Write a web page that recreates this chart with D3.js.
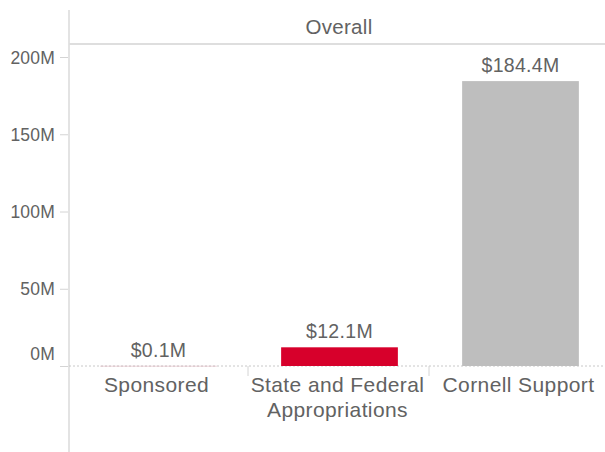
<!DOCTYPE html>
<html>
<head>
<meta charset="utf-8">
<script src="https://cdn.jsdelivr.net/npm/d3@7"></script>
<style>
  html, body { margin: 0; padding: 0; background: #fff; }
  svg { display: block; }
  text { font-family: "Liberation Sans", Arial, sans-serif; fill: #626262; }
</style>
</head>
<body>
<svg id="chart" width="605" height="452"></svg>
<script>
const categories = ["Sponsored", "State and Federal Appropriations", "Cornell Support"];
const categoryLines = [["Sponsored"], ["State and Federal", "Appropriations"], ["Cornell Support"]];
const values = [0.1, 12.1, 184.4]; // $M
const valueLabels = ["$0.1M", "$12.1M", "$184.4M"];
const barColors = ["#d9a6b1", "#d7002b", "#bebebe"];
const yTicks = [0, 50, 100, 150, 200];
const yTickLabels = ["0M", "50M", "100M", "150M", "200M"];
const panelTitle = "Overall";

const svg = d3.select("#chart");
const left = 69, right = 610, zeroY = 366, topY = 57;

const x = d3.scaleBand().domain(categories).range([67, right]).padding(0);
const y = d3.scaleLinear().domain([0, 200]).range([zeroY, topY]);

// Vertical axis line
svg.append("line").attr("x1", left).attr("x2", left).attr("y1", 10).attr("y2", 452)
  .attr("stroke", "#dadada").attr("stroke-width", 1.5);

// Header line + title
svg.append("line").attr("x1", left).attr("x2", 605).attr("y1", 44).attr("y2", 44)
  .attr("stroke", "#dedede").attr("stroke-width", 2);
svg.append("text").attr("x", (left + 605) / 2 + 2).attr("y", 34).attr("text-anchor", "middle")
  .style("font-size", "20.5px").style("letter-spacing", "0.3px").text(panelTitle);

// Y axis
const yAxis = d3.axisLeft(y).tickValues(yTicks).tickSize(8).tickPadding(5)
  .tickFormat((d, i) => yTickLabels[i]);
const gy = svg.append("g").attr("transform", `translate(${left - 1},0)`).call(yAxis);
gy.select(".domain").remove();
gy.selectAll(".tick line").attr("stroke", "#d4d4d4");
gy.selectAll(".tick text").style("font-size", "17.5px").attr("fill", "#626262")
  .style("font-family", "'Liberation Sans', Arial, sans-serif")
  .style("letter-spacing", "0.2px")
  .attr("dy", (d) => d === 0 ? "-0.4em" : "0.35em");

// Zero dotted line
svg.append("line").attr("x1", left).attr("x2", 605).attr("y1", y(0)).attr("y2", y(0))
  .attr("stroke", "#c8c8c8").attr("stroke-width", 1).attr("stroke-dasharray", "2,2");

// Category separators
categories.slice(1).forEach(c => {
  svg.append("line").attr("x1", x(c)).attr("x2", x(c)).attr("y1", y(0)).attr("y2", y(0) + 10)
    .attr("stroke", "#d4d4d4").attr("stroke-width", 1);
});

// Bars
const barW = x.bandwidth() * 0.645;
svg.selectAll("rect.bar").data(categories).enter().append("rect")
  .attr("class", "bar")
  .attr("x", (d) => x(d) + (x.bandwidth() - barW) / 2 + 1)
  .attr("width", barW)
  .attr("y", (d, i) => y(values[i]))
  .attr("height", (d, i) => Math.max(0.5, y(0) - y(values[i])))
  .attr("fill", (d, i) => barColors[i]);

// Value labels
svg.selectAll("text.val").data(categories).enter().append("text")
  .attr("class", "val")
  .attr("x", (d) => x(d) + x.bandwidth() / 2 + 1)
  .attr("y", (d, i) => y(values[i]) - 9)
  .attr("text-anchor", "middle")
  .style("font-size", "19.5px")
  .style("letter-spacing", "0.3px")
  .text((d, i) => valueLabels[i]);

// Category labels
categories.forEach((c, i) => {
  const cx = x(c) + x.bandwidth() / 2 - 1;
  const t = svg.append("text").attr("x", cx).attr("y", 392)
    .attr("text-anchor", "middle").style("font-size", "21px").style("letter-spacing", "0.4px");
  categoryLines[i].forEach((line, j) => {
    t.append("tspan").attr("x", cx).attr("dy", j === 0 ? 0 : 25).text(line);
  });
});
</script>
</body>
</html>
